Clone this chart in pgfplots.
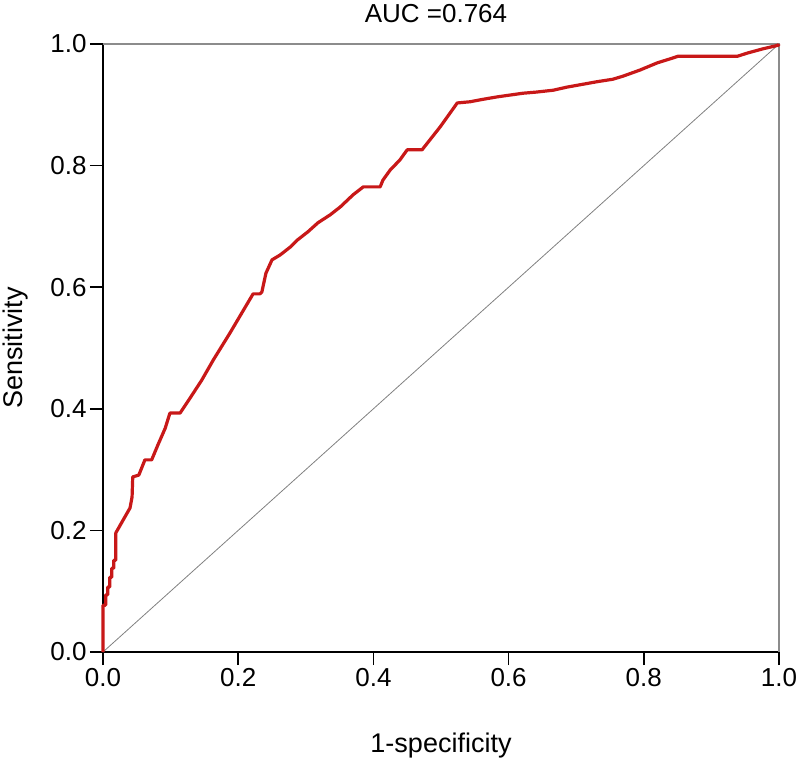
\documentclass[border=0pt]{standalone}
\usepackage{fontspec}
\setmainfont{Liberation Sans}
\usepackage{pgfplots}
\pgfplotsset{compat=1.18}
\usepackage{pgfplotstable}

\definecolor{rocred}{RGB}{200,24,24}
\definecolor{framegray}{RGB}{140,140,140}

% ROC points (1-specificity, sensitivity)
\pgfplotstableread{
fpr    tpr
0.000  0.000
0.000  0.077
0.004  0.077
0.004  0.094
0.007  0.094
0.007  0.107
0.010  0.107
0.010  0.123
0.013  0.123
0.013  0.138
0.016  0.138
0.016  0.151
0.019  0.151
0.019  0.196
0.040  0.237
0.043  0.255
0.044  0.288
0.053  0.291
0.062  0.316
0.072  0.316
0.081  0.340
0.092  0.368
0.099  0.393
0.114  0.393
0.129  0.418
0.146  0.447
0.163  0.480
0.188  0.525
0.222  0.589
0.232  0.589
0.235  0.592
0.241  0.623
0.250  0.645
0.262  0.653
0.277  0.666
0.288  0.678
0.303  0.691
0.318  0.706
0.336  0.719
0.351  0.732
0.370  0.752
0.385  0.765
0.410  0.765
0.414  0.776
0.425  0.793
0.439  0.809
0.450  0.826
0.472  0.826
0.499  0.864
0.524  0.903
0.543  0.905
0.562  0.909
0.583  0.913
0.602  0.916
0.621  0.919
0.642  0.921
0.666  0.924
0.686  0.929
0.706  0.933
0.731  0.938
0.754  0.942
0.769  0.947
0.794  0.957
0.820  0.969
0.843  0.977
0.851  0.980
0.939  0.980
0.953  0.985
0.976  0.992
0.999  0.998
1.000  1.000
}\roctable

\begin{document}
\begin{tikzpicture}
\begin{axis}[
    at={(0,0)}, anchor=south west,
    scale only axis,
    width=676pt, height=608pt,
    xmin=0, xmax=1, ymin=0, ymax=1,
    axis lines=left,
    axis line style={-, black, line width=2pt},
    tick align=outside,
    major tick length=13pt,
    tick style={black, line width=1.6pt},
    xtick={0,0.2,0.4,0.6,0.8,1},
    ytick={0,0.2,0.4,0.6,0.8,1},
    ticklabel style={font=\fontsize{26}{30}\selectfont},
    /pgf/number format/assume math mode=true,
    xticklabel style={/pgf/number format/.cd, fixed, fixed zerofill, precision=1},
    yticklabel style={/pgf/number format/.cd, fixed, fixed zerofill, precision=1},
    title={AUC =0.764},
    title style={font=\fontsize{26}{30}\selectfont, at={(0.5,1)}, anchor=base, inner sep=0pt, yshift=15pt, xshift=-5pt},
    xlabel={1-specificity},
    ylabel={Sensitivity},
    xlabel style={font=\fontsize{27}{30}\selectfont, at={(axis description cs:0.5,-0.153)}, anchor=center},
    ylabel style={font=\fontsize{27}{30}\selectfont, at={(axis description cs:-0.130,0.5)}, anchor=center, rotate=0},
    clip=false,
]
\draw[framegray, line width=1.5pt] (rel axis cs:0,1) -- (rel axis cs:1,1) -- (rel axis cs:1,0);
\addplot[gray, line width=0.8pt] coordinates {(0,0) (1,1)};
\addplot[rocred, line width=3.2pt, line join=round] table[x=fpr, y=tpr] {\roctable};
\end{axis}
\pgfresetboundingbox
\path[use as bounding box] (-103pt,-116pt) rectangle (696pt,652pt);
\end{tikzpicture}
\end{document}
